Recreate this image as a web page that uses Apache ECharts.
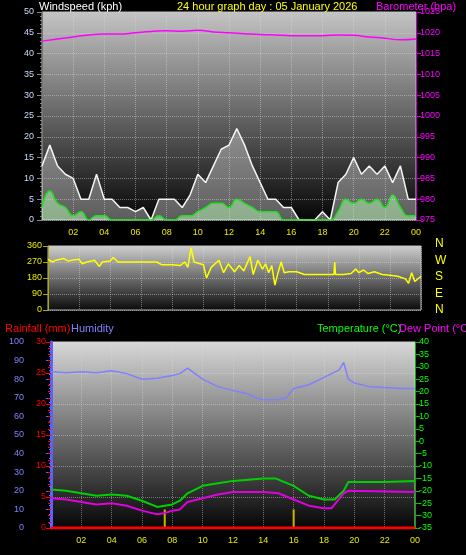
<!DOCTYPE html>
<html><head><meta charset="utf-8">
<script src="https://cdn.jsdelivr.net/npm/echarts@6/dist/echarts.min.js"></script>
<style>html,body{margin:0;padding:0;background:#000}#main{width:466px;height:555px}</style>
</head><body><div id="main"></div>
<script>
// half-hourly wind values, 00:00 .. 24:00
var windGust = [13,18,13,11,10,5,5,11,5,5,3,3,2,3,0,5,5,5,3,6,11,9,13,17,18,22,18,13,9,5,5,3,3,0,0,0,2,0,9,11,15,11,13,11,13,9,13,5,5];
var windAvg  = [3,7,4,3,1,2,0,1,1,0,0,0,0,0,0,1,0,0,1,1,2,3,4,4,3,5,4,3,2,2,2,0,0,0,0,0,0,0,2,5,4,5,4,5,3,6,3,1,1];
// hourly barometer
var baro = [1018,1018.5,1019,1019.5,1019.7,1019.7,1020,1020.3,1020.5,1020.4,1020.6,1020.2,1020,1019.8,1019.6,1019.5,1019.3,1019.3,1019.3,1019.5,1019.4,1019,1018.7,1018.3,1018.5];
// [hour, degrees]
var windDir = [[0,285],[0.3,270],[0.5,280],[1,290],[1.3,275],[1.5,280],[2,285],[2.2,260],[2.5,270],[3,280],[3.3,245],[3.5,270],[4,275],[4.2,295],[4.5,270],[5,270],[6,270],[7,270],[7.3,255],[8,255],[8.5,250],[8.8,270],[9,240],[9.2,350],[9.4,270],[10,255],[10.2,180],[10.5,240],[11,280],[11.3,210],[11.6,260],[12,215],[12.3,250],[12.6,220],[13,300],[13.2,200],[13.5,280],[13.8,230],[14,260],[14.2,210],[14.4,250],[14.6,140],[14.8,210],[15,270],[15.2,210],[15.5,215],[16,215],[16.5,200],[17,200],[18,200],[18.4,200],[18.45,270],[18.5,200],[19,200],[19.5,205],[19.8,230],[20,210],[20.3,225],[20.6,205],[21,215],[21.5,200],[22,195],[22.5,190],[23,175],[23.2,150],[23.4,210],[23.6,160],[24,190]];
// [hour, value]
var humidity = [[0,84],[1,83.5],[2,84],[3,83.5],[4,84.5],[5,83],[6,80],[7,80.5],[8,82],[8.5,83],[9,86],[10,80],[11,76],[12,74],[13,72],[13.5,70],[14,69],[15,69],[15.5,70],[16,75],[17,77],[18,81],[19,85],[19.3,89],[19.6,80],[20,78],[21,76],[22,75.5],[23,75],[24,75]];
var temperature = [[0,-19.5],[1,-20],[2,-21],[3,-22],[4,-21.5],[5,-22],[6,-24],[7,-26.5],[7.5,-26],[8,-25.5],[8.5,-24],[9,-21],[10,-18],[11,-17],[12,-16],[13,-15.5],[14,-15],[14.8,-15],[16,-18],[17,-22],[18,-23.5],[18.7,-23.5],[19.3,-20],[19.6,-16.5],[20,-16.5],[22,-16.5],[24,-16]];
var dewPoint = [[0,-23],[1,-23.5],[2,-24.5],[3,-25.5],[4,-25],[5,-26],[6,-28],[7,-29.5],[7.5,-29],[8,-28],[8.5,-27.5],[9,-24.5],[10,-23],[11,-21.5],[12,-20.5],[13,-20.5],[14,-20.5],[15,-21],[16,-23.5],[17,-26],[18,-27],[18.5,-27],[19.3,-21],[19.6,-20],[24,-20.5]];
var rainfall = [[0,0],[24,0]];
var markerHours = [[7.5,10],[16,10]];
var hourLabels = ['02','04','06','08','10','12','14','16','18','20','22','00'];
var compass = ['N','W','S','E','N'];

function halfHourly(arr){ return arr.map(function(v,i){ return [i/2, v]; }); }
function hourly(arr){ return arr.map(function(v,i){ return [i, v]; }); }

var fontF = '"Liberation Sans Narrow","Liberation Sans",Arial';
function bg(top, bottom){
    return {type:'linear',x:0,y:0,x2:0,y2:1,colorStops:[{offset:0,color:top},{offset:1,color:bottom}]};
}
var gridLine = {show:true, lineStyle:{color:'rgba(220,220,220,0.45)', type:'dotted'}};

function xAx(idx, showLabels){
    return {type:'value', gridIndex:idx, min:0, max:24, interval:2,
        axisLine:{show:false}, axisTick:{show:false}, splitLine:gridLine,
        axisLabel:{show:showLabels, color:'#e8e800', fontSize:9, fontFamily:fontF,
            formatter:function(v){ return v===0 ? '' : hourLabels[v/2-1]; }}};
}
function title(text, left, top, color){
    return {text:text, left:left, top:top, textStyle:{color:color, fontSize:11, fontWeight:'normal', fontFamily:fontF}};
}

var chart = echarts.init(document.getElementById('main'));
chart.setOption({
    backgroundColor:'#000',
    animation:false,
    title:[
        title('Windspeed (kph)', 34, -4, '#fff'),
        title('24 hour graph day : 05 January 2026', 172, -4, '#ffff00'),
        title('Barometer (hpa)', 371, -4, '#ff00ff'),
        title('Rainfall (mm)', 0, 318, '#ff0000'),
        title('Humidity', 66, 318, '#8080ff'),
        title('Temperature (°C)', 312, 318, '#00ff00'),
        title('Dew Point (°C)', 394, 318, '#ff00ff')
    ],
    graphic: compass.map(function(c,i){
        return {type:'text', left:435, top:238+i*16.5, style:{text:c, fill:'#ffff00', font:'12px '+fontF}};
    }),
    grid:[
        {left:42, top:12, width:374, height:208, show:true, borderColor:'#bbb', borderWidth:1, backgroundColor:bg('#c4c4c4','#050505')},
        {left:48, top:246, width:373, height:64, show:true, borderColor:'#bbb', borderWidth:1, backgroundColor:bg('#cfcfcf','#0a0a0a')},
        {left:51, top:342, width:364, height:186, show:true, borderColor:'#ccc', borderWidth:1, backgroundColor:bg('#d8d8d8','#050505')}
    ],
    xAxis:[xAx(0,true), xAx(1,false), xAx(2,true)],
    yAxis:[
        {type:'value', gridIndex:0, min:0, max:50, interval:5, splitLine:gridLine,
            axisLine:{show:true, lineStyle:{color:'#777'}}, axisTick:{show:true, lineStyle:{color:'#888'}},
            minorTick:{show:true, splitNumber:5, length:2, lineStyle:{color:'#888'}},
            axisLabel:{color:'#c8dcff', fontSize:9, fontFamily:fontF, margin:8}},
        {type:'value', gridIndex:0, min:975, max:1025, interval:5, position:'right', splitLine:{show:false},
            axisLine:{show:true, lineStyle:{color:'#c000c0'}}, axisTick:{show:true, lineStyle:{color:'#c000c0'}},
            axisLabel:{color:'#ff00ff', fontSize:9, fontFamily:fontF, margin:4, formatter:function(v){ return String(v); }}},
        {type:'value', gridIndex:1, min:0, max:360, interval:90, splitLine:gridLine,
            axisLine:{show:true, lineStyle:{color:'#aaaa00'}}, axisTick:{show:true, lineStyle:{color:'#aaaa00'}},
            axisLabel:{color:'#e8e800', fontSize:9, fontFamily:fontF, margin:6}},
        {type:'value', gridIndex:2, min:0, max:100, interval:10, position:'left', offset:21, splitLine:{show:false},
            axisLine:{show:true, lineStyle:{color:'#6060ff', width:3}}, axisTick:{show:true, lineStyle:{color:'#6060ff'}},
            minorTick:{show:true, splitNumber:4, length:2, lineStyle:{color:'#6060ff'}},
            axisLabel:{color:'#8080ff', fontSize:9, fontFamily:fontF, margin:6}},
        {type:'value', gridIndex:2, min:0, max:30, interval:5, position:'left', offset:0, splitLine:gridLine,
            axisLine:{show:false}, axisTick:{show:true, lineStyle:{color:'#ff0000'}},
            minorTick:{show:true, splitNumber:5, length:3, lineStyle:{color:'#ff0000'}},
            axisLabel:{color:'#ff0000', fontSize:9, fontFamily:fontF, margin:5}},
        {type:'value', gridIndex:2, min:-35, max:40, interval:5, position:'right', splitLine:{show:false},
            axisLine:{show:true, lineStyle:{color:'#00b000'}}, axisTick:{show:true, lineStyle:{color:'#00c000'}},
            axisLabel:{color:'#00ff00', fontSize:9, fontFamily:fontF, margin:4}}
    ],
    series:[
        {type:'line', name:'Gust', xAxisIndex:0, yAxisIndex:0, data:halfHourly(windGust), symbol:'none',
            lineStyle:{color:'#f4f4f4', width:1.5}, areaStyle:{color:'rgba(235,235,235,0.55)'}},
        {type:'line', name:'Average', xAxisIndex:0, yAxisIndex:0, data:halfHourly(windAvg), symbol:'none', smooth:true,
            lineStyle:{color:'#20e020', width:1.5}, areaStyle:{color:'rgba(190,255,190,0.7)'}},
        {type:'line', name:'Barometer', xAxisIndex:0, yAxisIndex:1, data:hourly(baro), symbol:'none', smooth:true,
            lineStyle:{color:'#ff00ff', width:1.5}},
        {type:'line', name:'Direction', xAxisIndex:1, yAxisIndex:2, data:windDir, symbol:'none',
            lineStyle:{color:'#ffff00', width:1.5}},
        {type:'line', name:'Humidity', xAxisIndex:2, yAxisIndex:3, data:humidity, symbol:'none',
            lineStyle:{color:'#8080ff', width:1.5}},
        {type:'line', name:'Rainfall', xAxisIndex:2, yAxisIndex:4, data:rainfall, symbol:'none',
            lineStyle:{color:'#ff0000', width:3}},
        {type:'bar', name:'Marker', xAxisIndex:2, yAxisIndex:3, data:markerHours, barWidth:2,
            itemStyle:{color:'#c8b400'}},
        {type:'line', name:'Temperature', xAxisIndex:2, yAxisIndex:5, data:temperature, symbol:'none',
            lineStyle:{color:'#00d000', width:2}},
        {type:'line', name:'Dew Point', xAxisIndex:2, yAxisIndex:5, data:dewPoint, symbol:'none',
            lineStyle:{color:'#e000e0', width:2}}
    ]
});
</script></body></html>
